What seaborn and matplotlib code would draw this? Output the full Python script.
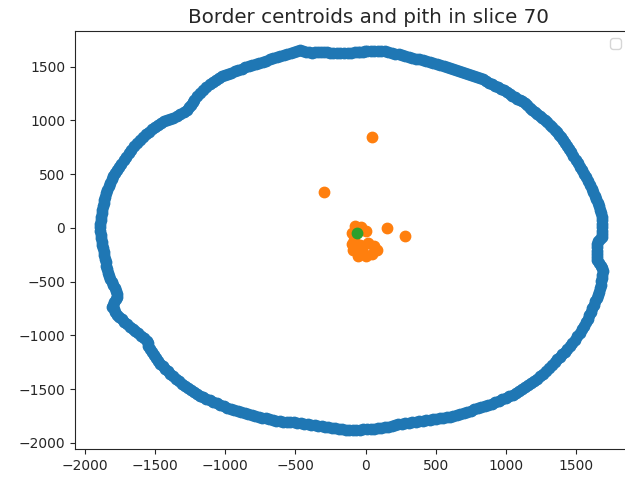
import matplotlib
matplotlib.use("Agg")
import matplotlib.pyplot as plt
import seaborn as sns

# Border centroid points (blue), traced clockwise from the top
border_x = [
    10, 35, 60, 85, 110, 135, 160, 185, 210, 235, 259, 284, 309, 334, 359, 384,
    409, 434, 459, 484, 509, 534, 559, 580, 602, 623, 644, 665, 687, 708, 730,
    751, 773, 794, 815, 836, 858, 880, 901, 922, 944, 965, 986, 1008, 1030,
    1047, 1065, 1083, 1101, 1118, 1136, 1154, 1172, 1190, 1208, 1225, 1243,
    1261, 1279, 1296, 1314, 1332, 1350, 1364, 1379, 1393, 1407, 1421, 1436,
    1450, 1464, 1482, 1500, 1514, 1528, 1542, 1557, 1571, 1585, 1600, 1614,
    1624, 1635, 1646, 1657, 1664, 1671, 1678, 1685, 1685, 1685, 1685, 1685,
    1685, 1685, 1671, 1657, 1653, 1650, 1650, 1650, 1650, 1650, 1664, 1678,
    1685, 1692, 1688, 1685, 1681, 1678, 1671, 1664, 1657, 1650, 1639, 1628,
    1617, 1607, 1596, 1585, 1571, 1557, 1542, 1528, 1510, 1493, 1475, 1457,
    1439, 1421, 1403, 1386, 1368, 1350, 1328, 1307, 1285, 1264, 1243, 1222,
    1200, 1179, 1158, 1136, 1115, 1093, 1072, 1051, 1026, 1001, 976, 951,
    926, 901, 876, 851, 826, 801, 776, 751, 726, 701, 676, 651, 626, 602,
    577, 552, 527, 502, 480, 459, 434, 409, 384, 359, 334, 309, 284, 259,
    234, 210, 185, 160, 135, 110, 85, 60, 35, 10, -15, -40, -65, -90, -115,
    -140, -165, -190, -215, -240, -265, -289, -314, -339, -364, -389, -414,
    -439, -464, -489, -514, -539, -563, -587, -612, -637, -662, -687, -712,
    -737, -762, -787, -812, -837, -862, -887, -912, -937, -962, -987, -1012,
    -1037, -1062, -1087, -1112, -1137, -1159, -1180, -1201, -1222, -1244,
    -1265, -1287, -1308, -1330, -1351, -1373, -1394, -1412, -1430, -1448,
    -1465, -1480, -1494, -1508, -1522, -1537, -1551, -1555, -1558, -1580,
    -1601, -1623, -1644, -1662, -1679, -1701, -1722, -1740, -1757, -1772,
    -1786, -1797, -1808, -1801, -1793, -1783, -1772, -1776, -1779, -1790,
    -1800, -1811, -1822, -1829, -1836, -1843, -1850, -1854, -1858, -1862,
    -1865, -1872, -1879, -1883, -1886, -1890, -1893, -1893, -1893, -1890,
    -1886, -1883, -1879, -1872, -1865, -1862, -1858, -1851, -1843, -1833,
    -1822, -1811, -1800, -1786, -1772, -1758, -1743, -1726, -1708, -1690,
    -1672, -1651, -1629, -1608, -1587, -1566, -1544, -1523, -1501, -1480,
    -1458, -1437, -1415, -1394, -1372, -1347, -1322, -1298, -1273, -1259,
    -1244, -1233, -1222, -1201, -1180, -1159, -1137, -1112, -1087, -1066,
    -1044, -1023, -1001, -980, -959, -934, -909, -884, -858, -833, -808,
    -783, -758, -733, -708, -683, -658, -634, -609, -584, -559, -535, -510,
    -489, -468, -447, -425, -404, -382, -361, -339, -318, -296, -275, -254,
    -229, -204, -179, -154, -129, -104, -79, -54, -37, -19, -5,
]
border_y = [
    1646, 1646, 1646, 1646, 1646, 1642, 1637, 1628, 1618, 1614, 1609, 1600, 1590,
    1581, 1572, 1567, 1562, 1553, 1544, 1535, 1525, 1516, 1507, 1497, 1488, 1479,
    1469, 1460, 1451, 1442, 1432, 1423, 1414, 1405, 1395, 1381, 1367, 1353, 1339,
    1325, 1311, 1297, 1283, 1265, 1246, 1232, 1218, 1204, 1190, 1177, 1163, 1140,
    1116, 1098, 1079, 1061, 1042, 1023, 1004, 981, 958, 935, 911, 888, 865, 842,
    818, 791, 763, 735, 707, 670, 632, 600, 567, 535, 502, 470, 437, 400, 363,
    330, 298, 265, 233, 200, 167, 135, 102, 70, 37, 5, -28, -56, -84, -102,
    -121, -149, -177, -210, -242, -270, -298, -326, -353, -377, -400, -433,
    -465, -498, -530, -563, -595, -623, -651, -684, -716, -749, -781, -814,
    -846, -879, -911, -944, -977, -1009, -1042, -1070, -1097, -1125, -1153,
    -1176, -1200, -1223, -1246, -1274, -1302, -1330, -1358, -1381, -1404,
    -1423, -1442, -1460, -1479, -1497, -1516, -1535, -1553, -1567, -1581,
    -1595, -1609, -1623, -1637, -1646, -1655, -1665, -1674, -1688, -1702,
    -1711, -1721, -1730, -1739, -1748, -1758, -1762, -1767, -1772, -1776,
    -1781, -1786, -1790, -1795, -1800, -1804, -1809, -1814, -1818, -1823,
    -1828, -1832, -1841, -1851, -1855, -1860, -1865, -1869, -1869, -1869,
    -1874, -1879, -1879, -1879, -1879, -1879, -1874, -1869, -1865, -1860,
    -1855, -1851, -1846, -1841, -1837, -1832, -1828, -1823, -1818, -1814,
    -1809, -1804, -1804, -1804, -1800, -1795, -1786, -1776, -1772, -1767,
    -1758, -1748, -1739, -1730, -1721, -1711, -1702, -1693, -1684, -1674,
    -1660, -1646, -1632, -1618, -1604, -1590, -1576, -1562, -1544, -1525,
    -1507, -1488, -1470, -1451, -1428, -1404, -1381, -1358, -1335, -1311,
    -1288, -1265, -1237, -1209, -1181, -1153, -1125, -1097, -1074, -1051,
    -1028, -1004, -981, -958, -940, -921, -898, -874, -851, -828, -805, -781,
    -758, -735, -712, -688, -665, -642, -614, -586, -558, -530, -502, -474,
    -447, -419, -386, -353, -321, -288, -256, -223, -191, -158, -126, -93,
    -61, -28, 5, 37, 70, 102, 135, 167, 200, 233, 261, 288, 321, 353, 386,
    419, 452, 484, 512, 539, 567, 595, 628, 660, 693, 725, 758, 791, 819,
    846, 870, 893, 916, 939, 958, 977, 991, 1004, 1014, 1023, 1042, 1060,
    1079, 1097, 1121, 1144, 1167, 1190, 1223, 1256, 1284, 1311, 1335, 1358,
    1377, 1395, 1409, 1423, 1433, 1442, 1456, 1469, 1483, 1497, 1507, 1516,
    1526, 1535, 1544, 1553, 1567, 1581, 1591, 1600, 1609, 1618, 1628, 1637,
    1646, 1655, 1646, 1637, 1633, 1628, 1633, 1637, 1637, 1637, 1633, 1628,
    1628, 1628, 1628, 1628, 1628, 1628, 1633, 1637, 1637, 1637, 1642,
]

# Ring centroids (orange)
centroid_x = [43, -296, 155, 281, -76, -33, -97, 3, -83, -40, 17, 60, 81, -90, -54, 3, 46, -26, -97]
centroid_y = [849, 332, 3, -72, 19, 9, -47, -28, -112, -158, -140, -167, -205, -205, -260, -260, -242, -205, -149]

# Pith (green)
pith_x = [-61]
pith_y = [-47]

sns.set_style("ticks")
plt.rcParams['font.family'] = ['DejaVu Sans']

fig = plt.figure(figsize=(6.25, 4.8), dpi=100)
ax = fig.add_axes([0.12, 0.0646, 0.8848, 0.8708])

palette = sns.color_palette("tab10")
sns.scatterplot(x=border_x, y=border_y, color=palette[0], s=56,
                edgecolor="face", linewidth=1, ax=ax)
sns.scatterplot(x=centroid_x, y=centroid_y, color=palette[1], s=56,
                edgecolor="face", linewidth=1, ax=ax)
sns.scatterplot(x=pith_x, y=pith_y, color=palette[2], s=56,
                edgecolor="face", linewidth=1, ax=ax)

ax.set_xlim(-2072, 1871)
ax.set_ylim(-2056, 1832)
ax.set_xticks([-2000, -1500, -1000, -500, 0, 500, 1000, 1500])
ax.set_yticks([-2000, -1500, -1000, -500, 0, 500, 1000, 1500])
ax.set_title("Border centroids and pith in slice 70", fontsize=14.3, x=0.53)
ax.legend()

fig.savefig("out.png", dpi=100)
